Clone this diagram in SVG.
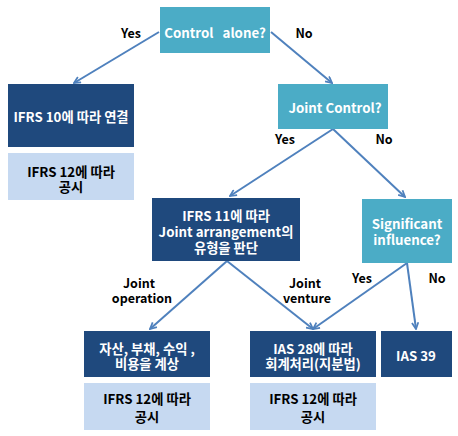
<svg xmlns="http://www.w3.org/2000/svg" width="458" height="436" viewBox="0 0 458 436">
<defs>
<style>
text{font-family:"Noto Sans CJK KR","Liberation Sans",sans-serif;font-weight:bold;font-size:13.3px;text-anchor:middle;dominant-baseline:central}
.q{fill:#4BACC6}
.d{fill:#1F497D}
.l{fill:#C6D9F1}
.w{fill:#FFFFFF}
.k{fill:#000000}
.lab{font-size:12.5px;fill:#000000}
.c{stroke:#4F81BD;stroke-width:2;fill:none;marker-end:url(#ah)}
</style>
<marker id="ah" viewBox="0 0 10 10" refX="9" refY="5" markerWidth="8" markerHeight="8" orient="auto" markerUnits="userSpaceOnUse">
<path d="M1,1 L9,5 L1,9" fill="none" stroke="#4F81BD" stroke-width="2.2" stroke-linejoin="miter"/>
</marker>
</defs>
<rect width="458" height="436" fill="#FFFFFF"/>
<g id="connectors">
<line class="c" x1="159" y1="32" x2="74" y2="83"/>
<line class="c" x1="271" y1="32" x2="332" y2="83"/>
<line class="c" x1="333" y1="129" x2="230" y2="196"/>
<line class="c" x1="333" y1="129" x2="405" y2="197"/>
<line class="c" x1="227" y1="261" x2="150" y2="329"/>
<line class="c" x1="227" y1="261" x2="313" y2="329"/>
<line class="c" x1="407" y1="263" x2="313" y2="329"/>
<line class="c" x1="407" y1="263" x2="416" y2="329"/>
<text class="lab" x="131" y="32">Yes</text>
<text class="lab" x="304" y="32">No</text>
<text class="lab" x="285" y="138">Yes</text>
<text class="lab" x="384" y="138">No</text>
<text class="lab" x="139" y="282">Joint</text>
<text class="lab" x="142" y="297">operation</text>
<text class="lab" x="305" y="282">Joint</text>
<text class="lab" x="307" y="297">venture</text>
<text class="lab" x="362" y="277">Yes</text>
<text class="lab" x="437" y="277">No</text>
</g>
<g id="control-alone">
<rect class="q" x="160" y="7" width="110" height="46"/>
<text class="w" x="215" y="32" xml:space="preserve">Control   alone?</text>
</g>
<g id="ifrs10">
<rect class="d" x="8" y="84" width="126" height="63"/>
<text class="w" x="71" y="116">IFRS 10에 따라 연결</text>
</g>
<g id="ifrs12-a">
<rect class="l" x="8" y="153" width="126" height="47"/>
<text class="k" x="71" y="171">IFRS 12에 따라</text>
<text class="k" x="71" y="186">공시</text>
</g>
<g id="joint-control">
<rect class="q" x="278" y="84" width="110" height="45"/>
<text class="w" x="335" y="107">Joint Control?</text>
</g>
<g id="ifrs11">
<rect class="d" x="152" y="198" width="148" height="63"/>
<text class="w" x="226" y="215">IFRS 11에 따라</text>
<text class="w" x="226" y="231">Joint arrangement의</text>
<text class="w" x="226" y="247">유형을 판단</text>
</g>
<g id="significant">
<rect class="q" x="362" y="199" width="90" height="64"/>
<text class="w" x="407" y="223">Significant</text>
<text class="w" x="407" y="239">influence?</text>
</g>
<g id="joint-operation">
<rect class="d" x="84" y="331" width="126" height="46"/>
<text class="w" x="147" y="348">자산, 부채, 수익 ,</text>
<text class="w" x="147" y="363">비용을 계상</text>
</g>
<g id="ias28">
<rect class="d" x="250" y="331" width="126" height="46"/>
<text class="w" x="313" y="348">IAS 28에 따라</text>
<text class="w" x="313" y="363">회계처리(지분법)</text>
</g>
<g id="ias39">
<rect class="d" x="381" y="331" width="71" height="46"/>
<text class="w" x="416" y="355">IAS 39</text>
</g>
<g id="ifrs12-b">
<rect class="l" x="84" y="383" width="126" height="47"/>
<text class="k" x="147" y="398">IFRS 12에 따라</text>
<text class="k" x="147" y="416">공시</text>
</g>
<g id="ifrs12-c">
<rect class="l" x="250" y="383" width="126" height="47"/>
<text class="k" x="313" y="398">IFRS 12에 따라</text>
<text class="k" x="313" y="416">공시</text>
</g>
</svg>
